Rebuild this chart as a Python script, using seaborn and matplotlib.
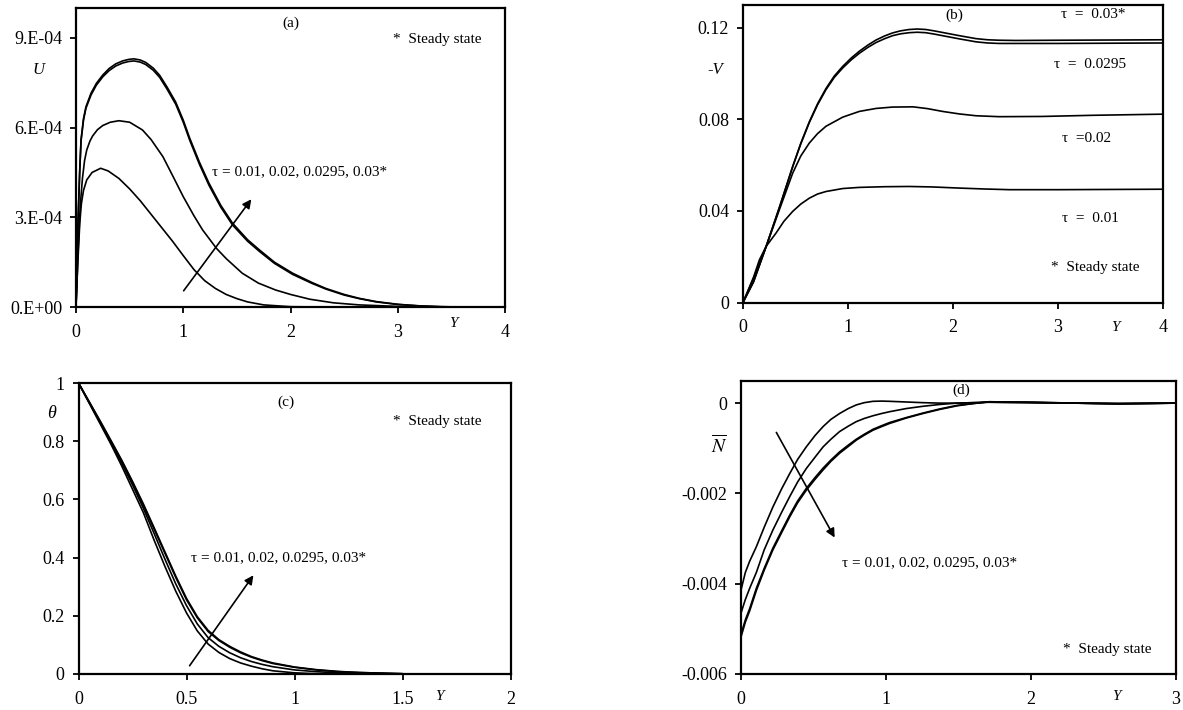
import numpy as np
import pandas as pd
import seaborn as sns
import matplotlib.pyplot as plt
from matplotlib.patches import FancyArrowPatch

# ---- data ----
# (a) U vs Y  (values in 1e-4)
ya_001 = [0, 0.01, 0.02, 0.035, 0.05, 0.07, 0.1, 0.15, 0.23, 0.3, 0.4, 0.5, 0.6, 0.7, 0.8, 0.9, 1.0, 1.1, 1.2, 1.3, 1.4, 1.5, 1.6, 1.75, 2.0, 2.3]
ua_001 = [0, 0.9, 1.7, 2.8, 3.45, 3.9, 4.25, 4.5, 4.64, 4.55, 4.3, 3.95, 3.55, 3.1, 2.65, 2.2, 1.72, 1.25, 0.88, 0.62, 0.42, 0.28, 0.17, 0.07, 0.01, 0]
ya_002 = [0, 0.02, 0.04, 0.06, 0.08, 0.1, 0.13, 0.155, 0.2, 0.25, 0.32, 0.4, 0.5, 0.62, 0.7, 0.81, 0.9, 1.0, 1.1, 1.18, 1.31, 1.4, 1.55, 1.7, 1.86, 2.0, 2.18, 2.4, 2.64, 3.0, 3.3]
ua_002 = [0, 1.9, 3.4, 4.3, 4.9, 5.25, 5.55, 5.72, 5.93, 6.07, 6.18, 6.23, 6.18, 5.92, 5.6, 5.03, 4.4, 3.69, 3.05, 2.58, 1.96, 1.62, 1.13, 0.8, 0.57, 0.42, 0.26, 0.14, 0.07, 0.02, 0]
ya_003 = [0, 0.01, 0.02, 0.035, 0.047, 0.07, 0.093, 0.14, 0.19, 0.25, 0.31, 0.37, 0.435, 0.49, 0.54, 0.6, 0.65, 0.72, 0.78, 0.85, 0.93, 1.0, 1.06, 1.15, 1.24, 1.35, 1.46, 1.6, 1.71, 1.85, 2.02, 2.2, 2.33, 2.5, 2.64, 2.8, 3.0, 3.2, 3.4, 3.6]
ua_0295 = [0, 1.55, 2.95, 4.55, 5.55, 6.25, 6.65, 7.09, 7.42, 7.7, 7.91, 8.06, 8.16, 8.21, 8.23, 8.19, 8.11, 7.92, 7.68, 7.28, 6.78, 6.18, 5.58, 4.78, 4.07, 3.34, 2.74, 2.2, 1.86, 1.46, 1.09, 0.79, 0.6, 0.4, 0.28, 0.17, 0.085, 0.035, 0.01, 0]
ua_003 = [0, 1.6, 3.0, 4.6, 5.6, 6.3, 6.7, 7.15, 7.48, 7.76, 7.98, 8.13, 8.23, 8.28, 8.3, 8.26, 8.18, 7.99, 7.75, 7.35, 6.85, 6.25, 5.65, 4.85, 4.14, 3.4, 2.8, 2.25, 1.91, 1.5, 1.13, 0.82, 0.62, 0.42, 0.29, 0.18, 0.09, 0.04, 0.01, 0]

# (b) -V vs Y
yb_001 = [0, 0.1, 0.156, 0.22, 0.314, 0.39, 0.473, 0.55, 0.632, 0.71, 0.79, 0.95, 1.108, 1.35, 1.584, 1.8, 2.06, 2.3, 2.54, 3.0, 3.5, 4.0]
vb_001 = [0, 0.011, 0.0186, 0.0245, 0.0303, 0.0355, 0.0398, 0.043, 0.0456, 0.0474, 0.0485, 0.0498, 0.0503, 0.0506, 0.0507, 0.0505, 0.05, 0.0496, 0.0493, 0.0493, 0.0494, 0.0495]
yb_002 = [0, 0.1, 0.22, 0.35, 0.473, 0.55, 0.632, 0.71, 0.79, 0.95, 1.108, 1.267, 1.425, 1.62, 1.76, 1.9, 2.06, 2.22, 2.44, 2.85, 3.33, 4.0]
vb_002 = [0, 0.0105, 0.0244, 0.041, 0.0565, 0.064, 0.0697, 0.0738, 0.077, 0.081, 0.0835, 0.0848, 0.0854, 0.0855, 0.0847, 0.0835, 0.0824, 0.0816, 0.0812, 0.0813, 0.0818, 0.0823]
yb_003 = [0, 0.1, 0.22, 0.35, 0.473, 0.55, 0.632, 0.71, 0.79, 0.87, 0.95, 1.03, 1.108, 1.19, 1.267, 1.35, 1.425, 1.5, 1.584, 1.66, 1.74, 1.82, 1.9, 2.06, 2.22, 2.33, 2.44, 2.6, 3.0, 3.5, 4.0]
vb_0295 = [0, 0.009, 0.0244, 0.042, 0.0593, 0.0693, 0.0787, 0.0864, 0.093, 0.0984, 0.1025, 0.106, 0.1089, 0.1115, 0.1136, 0.1153, 0.1166, 0.1174, 0.1179, 0.1181, 0.1179, 0.1173, 0.1166, 0.1152, 0.1139, 0.1134, 0.1132, 0.1132, 0.1132, 0.1133, 0.1134]
vb_003 = [0, 0.009, 0.0244, 0.042, 0.0594, 0.0695, 0.079, 0.0868, 0.0935, 0.099, 0.1032, 0.1068, 0.1098, 0.1125, 0.1147, 0.1165, 0.1178, 0.1187, 0.1193, 0.1195, 0.1193, 0.1187, 0.118, 0.1166, 0.1153, 0.1148, 0.1146, 0.1145, 0.1146, 0.1147, 0.1148]

# (c) theta vs Y
yc = [0, 0.05, 0.1, 0.15, 0.2, 0.25, 0.3, 0.35, 0.4, 0.45, 0.5, 0.55, 0.6, 0.65, 0.7, 0.75, 0.8, 0.85, 0.9, 1.0, 1.1, 1.2, 1.3, 1.4, 1.5]
tc_001 = [1, 0.93, 0.86, 0.79, 0.715, 0.635, 0.555, 0.46, 0.37, 0.285, 0.21, 0.148, 0.103, 0.074, 0.053, 0.038, 0.027, 0.018, 0.011, 0.004, 0.001, 0, 0, 0, 0]
tc_002 = [1, 0.932, 0.865, 0.795, 0.725, 0.65, 0.57, 0.483, 0.395, 0.31, 0.235, 0.172, 0.125, 0.095, 0.073, 0.056, 0.043, 0.033, 0.025, 0.014, 0.008, 0.004, 0.002, 0.001, 0]
tc_0295 = [1, 0.934, 0.868, 0.8, 0.732, 0.658, 0.58, 0.498, 0.415, 0.332, 0.255, 0.193, 0.146, 0.115, 0.092, 0.073, 0.058, 0.046, 0.036, 0.023, 0.014, 0.008, 0.005, 0.003, 0.001]
tc_003 = [1, 0.935, 0.87, 0.803, 0.735, 0.662, 0.585, 0.503, 0.42, 0.337, 0.26, 0.197, 0.15, 0.118, 0.095, 0.076, 0.06, 0.048, 0.038, 0.024, 0.015, 0.009, 0.005, 0.003, 0.001]

# (d) N-bar vs Y (values in 1e-3)
yd = [0, 0.03, 0.06, 0.106, 0.16, 0.22, 0.28, 0.336, 0.39, 0.45, 0.51, 0.566, 0.62, 0.68, 0.74, 0.795, 0.85, 0.91, 0.97, 1.025, 1.14, 1.255, 1.37, 1.49, 1.6, 1.71, 2.0, 2.3, 2.6, 3.0]
nd_001 = [-4.14, -3.75, -3.5, -3.18, -2.75, -2.3, -1.9, -1.56, -1.25, -0.97, -0.72, -0.52, -0.36, -0.23, -0.12, -0.04, 0.01, 0.04, 0.045, 0.04, 0.025, 0.01, 0.0, 0, 0.01, 0.02, 0.01, 0.0, -0.02, 0]
nd_002 = [-4.65, -4.35, -4.1, -3.75, -3.25, -2.81, -2.42, -2.07, -1.75, -1.45, -1.2, -0.97, -0.8, -0.63, -0.51, -0.41, -0.34, -0.28, -0.23, -0.19, -0.12, -0.07, -0.03, 0, 0.01, 0.02, 0.01, 0.0, -0.01, 0]
nd_0295 = [-5.12, -4.8, -4.55, -4.1, -3.66, -3.21, -2.83, -2.48, -2.17, -1.89, -1.65, -1.44, -1.26, -1.08, -0.93, -0.8, -0.69, -0.58, -0.5, -0.43, -0.32, -0.22, -0.13, -0.05, -0.01, 0.03, 0.02, 0.0, -0.01, 0]
nd_003 = [-5.18, -4.85, -4.6, -4.15, -3.7, -3.25, -2.87, -2.52, -2.21, -1.93, -1.69, -1.48, -1.29, -1.11, -0.96, -0.82, -0.71, -0.6, -0.52, -0.45, -0.33, -0.23, -0.14, -0.06, -0.01, 0.03, 0.02, 0.0, -0.01, 0]

tau_text = "τ = 0.01, 0.02, 0.0295, 0.03*"

sns.set_theme(style="ticks")
plt.rcParams['font.family'] = ['Liberation Serif', 'DejaVu Serif']
plt.rcParams['mathtext.fontset'] = 'stix'

W, H = 1183, 710
fig = plt.figure(figsize=(W / 100, H / 100), dpi=100)


def box(l, r, t, b):
    return [l / W, 1 - b / H, (r - l) / W, (b - t) / H]


def fp(x, y):
    return (x / W, 1 - y / H)


def txt(x, y, s, size=11, style='normal'):
    fig.text(*fp(x, y), s, ha='center', va='center', fontsize=size, style=style, color='black')


def arrow(x0, y0, x1, y1):
    fig.add_artist(FancyArrowPatch(fp(x0, y0), fp(x1, y1), transform=fig.transFigure,
                                   arrowstyle='-|>', mutation_scale=13, lw=1.2, color='black'))


def style_ax(ax):
    for s in ax.spines.values():
        s.set_linewidth(1.6)
        s.set_color('black')
    ax.tick_params(direction='out', length=4, width=1.3, labelsize=13, colors='black')
    ax.tick_params(axis='x', pad=8)
    ax.tick_params(axis='y', pad=6)
    ax.set_xlabel('')
    ax.set_ylabel('')


def draw(ax, x, y):
    sns.lineplot(x=x, y=y, ax=ax, color='black', lw=1.2, estimator=None, sort=False, legend=False)


# (a)
ax = fig.add_axes(box(76, 505, 8, 307))
draw(ax, ya_001, np.array(ua_001) * 1e-4)
draw(ax, ya_002, np.array(ua_002) * 1e-4)
draw(ax, ya_003, np.array(ua_0295) * 1e-4)
draw(ax, ya_003, np.array(ua_003) * 1e-4)
ax.set_xlim(0, 4)
ax.set_ylim(0, 1.0e-3)
ax.set_xticks([0, 1, 2, 3, 4])
ax.set_xticklabels(['0', '1', '2', '3', '4'])
ax.set_yticks([0, 3e-4, 6e-4, 9e-4])
ax.set_yticklabels(['0.E+00', '3.E-04', '6.E-04', '9.E-04'])
style_ax(ax)

# (b)
ax = fig.add_axes(box(743, 1163, 5, 302.5))
draw(ax, yb_001, vb_001)
draw(ax, yb_002, vb_002)
draw(ax, yb_003, vb_0295)
draw(ax, yb_003, vb_003)
ax.set_xlim(0, 4)
ax.set_ylim(0, 0.13)
ax.set_xticks([0, 1, 2, 3, 4])
ax.set_xticklabels(['0', '1', '2', '3', '4'])
ax.set_yticks([0, 0.04, 0.08, 0.12])
ax.set_yticklabels(['0', '0.04', '0.08', '0.12'])
style_ax(ax)

# (c)
ax = fig.add_axes(box(78.5, 510.5, 383, 674))
draw(ax, yc, tc_001)
draw(ax, yc, tc_002)
draw(ax, yc, tc_0295)
draw(ax, yc, tc_003)
ax.set_xlim(0, 2)
ax.set_ylim(0, 1)
ax.set_xticks([0, 0.5, 1, 1.5, 2])
ax.set_xticklabels(['0', '0.5', '1', '1.5', '2'])
ax.set_yticks([0, 0.2, 0.4, 0.6, 0.8, 1])
ax.set_yticklabels(['0', '0.2', '0.4', '0.6', '0.8', '1'])
style_ax(ax)

# (d)
ax = fig.add_axes(box(741, 1176, 381, 674))
draw(ax, yd, np.array(nd_001) * 1e-3)
draw(ax, yd, np.array(nd_002) * 1e-3)
draw(ax, yd, np.array(nd_0295) * 1e-3)
draw(ax, yd, np.array(nd_003) * 1e-3)
ax.set_xlim(0, 3)
ax.set_ylim(-0.006, 0.00049)
ax.set_xticks([0, 1, 2, 3])
ax.set_xticklabels(['0', '1', '2', '3'])
ax.set_yticks([-0.006, -0.004, -0.002, 0])
ax.set_yticklabels(['-0.006', '-0.004', '-0.002', '0'])
style_ax(ax)

# annotations (a)
txt(291, 23, '(a)')
txt(437, 39, '*  Steady state')
txt(38, 70, 'U', 12, 'italic')
txt(300, 172, tau_text)
arrow(182, 293, 253, 197)
txt(453, 323, 'Y', 11, 'italic')

# annotations (b)
txt(954, 15, '(b)')
txt(1093, 15, 'τ  =  0.03*')
txt(1090, 65, 'τ  =  0.0295')
txt(1087, 138, 'τ  =0.02')
txt(1090, 218, 'τ  =  0.01')
txt(1095, 268, '*  Steady state')
txt(715, 70, '-V', 12, 'italic')
txt(1115, 327, 'Y', 11, 'italic')

# annotations (c)
txt(286, 402, '(c)')
txt(437, 422, '*  Steady state')
txt(52, 413, 'θ', 13, 'italic')
txt(279, 558, tau_text)
arrow(188, 668, 255, 573)
txt(439, 697, 'Y', 11, 'italic')

# annotations (d)
txt(961, 390, '(d)')
txt(719, 445, r'$\overline{N}$', 14)
txt(930, 563, tau_text)
arrow(775, 430, 836, 540)
txt(1107, 650, '*  Steady state')
txt(1116, 697, 'Y', 11, 'italic')

fig.savefig('out.png', dpi=100, facecolor='white')
